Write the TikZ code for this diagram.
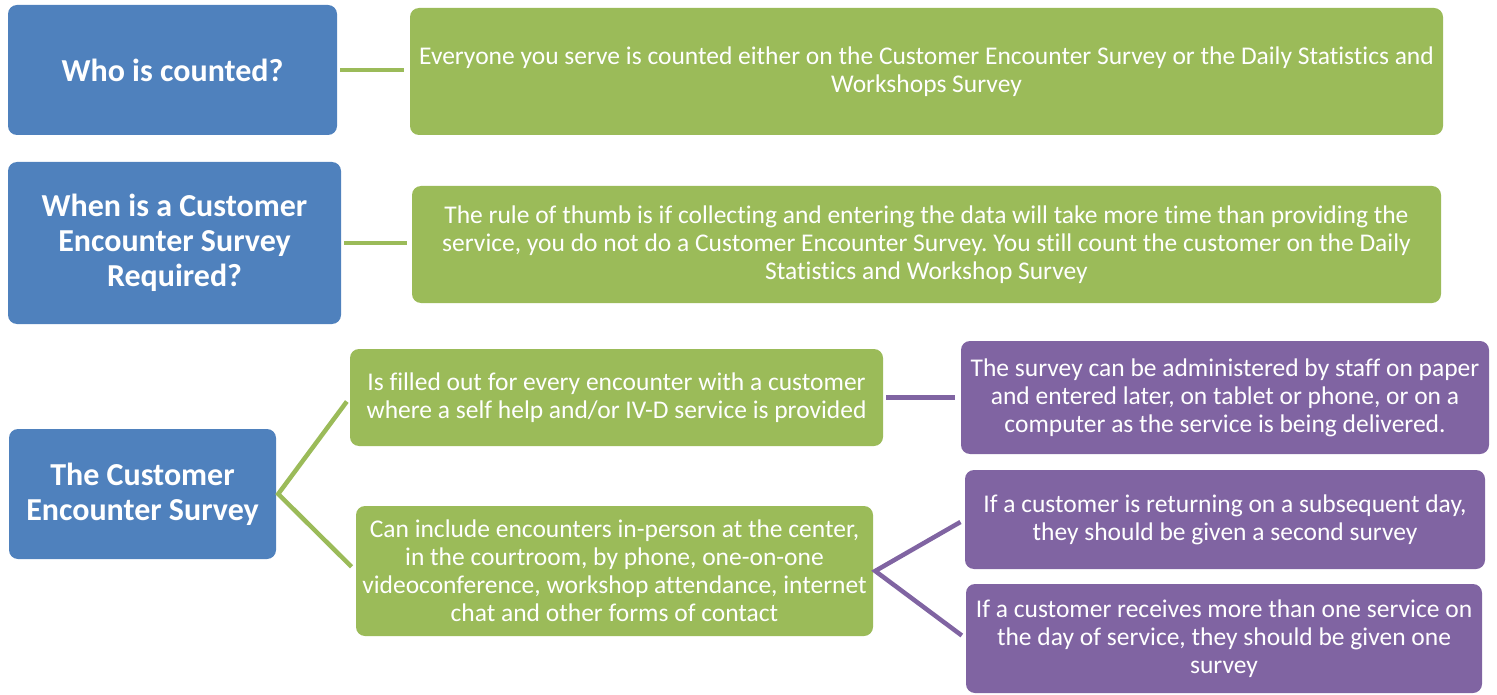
\documentclass[tikz,border=0pt]{standalone}
\usepackage{fontspec}
\setmainfont{Carlito}[Ligatures=NoCommon]
\frenchspacing
\definecolor{cblue}{HTML}{4F81BD}
\definecolor{cgreen}{HTML}{9BBB59}
\definecolor{cpurple}{HTML}{8064A2}
\begin{document}
\begin{tikzpicture}[x=1pt,y=-1pt,
  box/.style={rectangle, rounded corners=9pt, inner sep=0pt, align=center, text=white},
  bluebox/.style={box, fill=cblue, font=\fontsize{32}{35}\selectfont\bfseries},
  greenbox/.style={box, fill=cgreen, font=\fontsize{25.5}{28}\selectfont},
  purplebox/.style={box, fill=cpurple, font=\fontsize{25.5}{28}\selectfont},
  gline/.style={draw=cgreen, line width=4.5pt},
  pline/.style={draw=cpurple, line width=4.5pt}]
\useasboundingbox (0,0) rectangle (1497,695);
\node[bluebox, minimum width=329pt, minimum height=130pt] (b1) at (172.5,70) {Who is counted?};
\node[greenbox, minimum width=1033pt, minimum height=127pt] (g1) at (926.5,71.5)
  {Everyone you serve is counted either on the Customer Encounter Survey or the Daily Statistics and\\Workshops Survey};
\node[bluebox, minimum width=333pt, minimum height=162pt] (b2) at (174.5,243)
  {When is a Customer\\Encounter Survey\\Required?};
\node[greenbox, minimum width=1029pt, minimum height=117pt] (g2) at (926.5,244.5)
  {The rule of thumb is if collecting and entering the data will take more time than providing the\\service, you do not do a Customer Encounter Survey. You still count the customer on the Daily\\Statistics and Workshop Survey};
\node[bluebox, minimum width=267pt, minimum height=130pt] (b3) at (142.5,494)
  {The Customer\\Encounter Survey};
\node[greenbox, minimum width=533pt, minimum height=97pt] (ga) at (616.5,397.5)
  {Is filled out for every encounter with a customer\\where a self help and/or IV-D service is provided};
\node[greenbox, minimum width=517pt, minimum height=130pt] (gb) at (614.5,571)
  {Can include encounters in-person at the center,\\in the courtroom, by phone, one-on-one\\videoconference, workshop attendance, internet\\chat and other forms of contact};
\node[purplebox, minimum width=528pt, minimum height=113pt] (p1) at (1225,397.5)
  {The survey can be administered by staff on paper\\and entered later, on tablet or phone, or on a\\computer as the service is being delivered.};
\node[purplebox, minimum width=520pt, minimum height=99pt] (p2) at (1225,519.5)
  {If a customer is returning on a subsequent day,\\they should be given a second survey};
\node[purplebox, minimum width=516pt, minimum height=109pt] (p3) at (1224,638.5)
  {If a customer receives more than one service on\\the day of service, they should be given one\\survey};
\draw[gline, shorten <=3pt, shorten >=6pt] (b1.east) -- (g1.west |- b1.east);
\draw[gline, shorten <=3pt, shorten >=5pt] (b2.east) -- (g2.west |- b2.east);
\draw[gline, shorten <=5pt, shorten >=6pt] (ga.west) -- ([xshift=2pt]b3.east) -- (gb.west);
\draw[pline, shorten <=3pt, shorten >=6pt] (ga.east) -- (p1.west);
\draw[pline, shorten <=5pt, shorten >=5pt] (p2.west) -- ([xshift=2pt]gb.east) -- (p3.west);
\end{tikzpicture}
\end{document}
